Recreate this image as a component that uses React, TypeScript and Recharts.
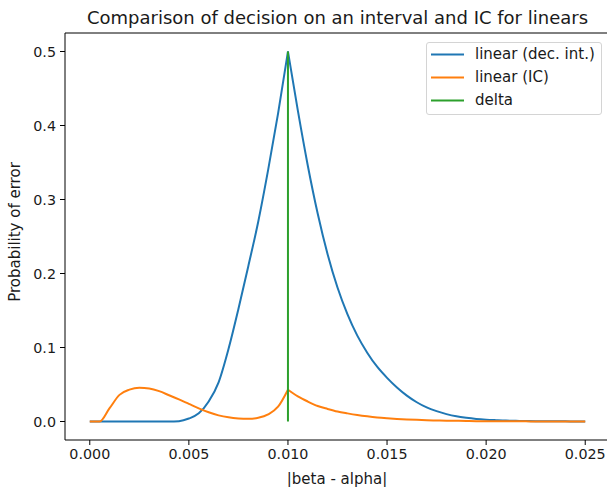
import * as React from 'react'
import { Legend, Line, LineChart, ReferenceArea, XAxis, YAxis } from 'recharts'

// |beta - alpha| sample positions, every 0.0005
const X_VALUES = [
  0, 0.0005, 0.001, 0.0015, 0.002, 0.0025, 0.003, 0.0035, 0.004, 0.0045,
  0.005, 0.0055, 0.006, 0.0065, 0.007, 0.0075, 0.008, 0.0085, 0.009, 0.0095,
  0.01, 0.0105, 0.011, 0.0115, 0.012, 0.0125, 0.013, 0.0135, 0.014, 0.0145,
  0.015, 0.0155, 0.016, 0.0165, 0.017, 0.0175, 0.018, 0.0185, 0.019, 0.0195,
  0.02, 0.0205, 0.021, 0.0215, 0.022, 0.0225, 0.023, 0.0235, 0.024, 0.0245,
  0.025,
]

const LINEAR_DEC_INT = [
  0, 0, 0, 0, 0, 0, 0, 0, 0, 0.0005,
  0.004, 0.011, 0.027, 0.053, 0.098, 0.152, 0.21, 0.27, 0.34, 0.416,
  0.5, 0.42, 0.346, 0.281, 0.226, 0.181, 0.145, 0.116, 0.093, 0.074,
  0.059, 0.046, 0.035, 0.026, 0.019, 0.014, 0.01, 0.007, 0.005, 0.0035,
  0.0025, 0.0018, 0.0012, 0.0009, 0.0006, 0.0004, 0.0003, 0.0002, 0.0002, 0.0001,
  0.0001,
]

const LINEAR_IC = [
  0, 0, 0.018, 0.036, 0.043, 0.0455, 0.0445, 0.041, 0.0355, 0.0298,
  0.0238, 0.0178, 0.0125, 0.0083, 0.0056, 0.0041, 0.0036, 0.005, 0.0095, 0.02,
  0.043, 0.034, 0.027, 0.021, 0.017, 0.0135, 0.011, 0.0088, 0.007, 0.0055,
  0.0044, 0.0035, 0.0028, 0.0022, 0.0017, 0.0014, 0.0011, 0.0009, 0.0007, 0.0005,
  0.0004, 0.0003, 0.0003, 0.0002, 0.0002, 0.0001, 0.0001, 0.0001, 0, 0,
  0,
]

// both curves have a cusp at the delta, so each side is drawn as its own segment
const CUSP_X = 0.01

const DELTA_X = [0.01, 0.01]
const DELTA_Y = [0, 0.5]

const X_TICKS = [0, 0.005, 0.01, 0.015, 0.02, 0.025]
const Y_TICKS = [0, 0.1, 0.2, 0.3, 0.4, 0.5]
const X_DOMAIN = [-0.00125, 0.02625]
const Y_DOMAIN = [-0.025, 0.525]

const SERIES = [
  { key: 'dec', name: 'linear (dec. int.)', color: '#1f77b4' },
  { key: 'ic', name: 'linear (IC)', color: '#ff7f0e' },
  { key: 'delta', name: 'delta', color: '#2ca02c' },
]

const data = X_VALUES.map((x, i) => ({ x, dec: LINEAR_DEC_INT[i], ic: LINEAR_IC[i] }))
const leftData = data.filter((d) => d.x <= CUSP_X)
const rightData = data.filter((d) => d.x >= CUSP_X)
const deltaData = DELTA_X.map((x, i) => ({ x, delta: DELTA_Y[i] }))

const FONT = '"DejaVu Sans", Verdana, sans-serif'
const TEXT = '#1a1a1a'
const TICK_STYLE = { fontSize: 14.3, fill: TEXT, fontFamily: FONT }

function LegendBox() {
  return (
    <div
      style={{
        width: 176,
        height: 73,
        boxSizing: 'border-box',
        border: '1px solid #d4d4d4',
        borderRadius: 3,
        background: 'rgba(255,255,255,0.8)',
        fontFamily: FONT,
        fontSize: 15,
        color: TEXT,
      }}
    >
      {SERIES.map((s) => (
        <div key={s.key} style={{ height: 23, display: 'flex', alignItems: 'center' }}>
          <svg width={48} height={23} style={{ flexShrink: 0 }}>
            <line x1={4} x2={37} y1={11.5} y2={11.5} stroke={s.color} strokeWidth={2} />
          </svg>
          <span style={{ lineHeight: 1, whiteSpace: 'nowrap' }}>{s.name}</span>
        </div>
      ))}
    </div>
  )
}

export default function App() {
  const curve = (key: string, color: string, segment: typeof data, side: string) => (
    <Line
      key={key + side}
      data={segment}
      dataKey={key}
      type="monotone"
      stroke={color}
      strokeWidth={2}
      dot={false}
      activeDot={false}
      isAnimationActive={false}
    />
  )

  return (
    <div
      style={{
        position: 'fixed',
        left: 0,
        top: 0,
        width: 607,
        height: 487,
        overflow: 'hidden',
        background: '#fff',
        fontFamily: FONT,
        color: TEXT,
      }}
    >
      <div
        style={{
          position: 'absolute',
          left: 0,
          top: 9,
          width: 675,
          textAlign: 'center',
          fontSize: 18,
          lineHeight: 1,
          whiteSpace: 'nowrap',
        }}
      >
        Comparison of decision on an interval and IC for linears
      </div>
      <div
        style={{
          position: 'absolute',
          left: 15,
          top: 232,
          transform: 'translate(-50%, -50%) rotate(-90deg)',
          fontSize: 15,
          lineHeight: 1,
          whiteSpace: 'nowrap',
        }}
      >
        Probability of error
      </div>
      <div
        style={{
          position: 'absolute',
          left: 337,
          top: 479,
          transform: 'translate(-50%, -50%)',
          fontSize: 15,
          lineHeight: 1,
          whiteSpace: 'nowrap',
        }}
      >
        |beta - alpha|
      </div>
      <div style={{ position: 'absolute', left: 0, top: 0 }}>
        <LineChart width={620} height={487} data={data} margin={{ top: 33, right: 10, bottom: 0, left: 0 }}>
          <XAxis
            dataKey="x"
            type="number"
            domain={X_DOMAIN}
            ticks={X_TICKS}
            allowDataOverflow
            height={47}
            tick={TICK_STYLE}
            tickFormatter={(v: number) => v.toFixed(3)}
            tickSize={5}
            tickMargin={4}
            axisLine={false}
            tickLine={{ stroke: '#000', strokeWidth: 1 }}
            interval={0}
          />
          <YAxis
            type="number"
            domain={Y_DOMAIN}
            ticks={Y_TICKS}
            allowDataOverflow
            width={65}
            tick={TICK_STYLE}
            tickFormatter={(v: number) => v.toFixed(1)}
            tickSize={5}
            tickMargin={4}
            axisLine={false}
            tickLine={{ stroke: '#000', strokeWidth: 1 }}
            interval={0}
          />
          <ReferenceArea
            x1={X_DOMAIN[0]}
            x2={X_DOMAIN[1]}
            y1={Y_DOMAIN[0]}
            y2={Y_DOMAIN[1]}
            fill="none"
            stroke="#000"
            strokeWidth={1}
            ifOverflow="visible"
          />
          {curve('dec', SERIES[0].color, leftData, 'L')}
          {curve('dec', SERIES[0].color, rightData, 'R')}
          {curve('ic', SERIES[1].color, leftData, 'L')}
          {curve('ic', SERIES[1].color, rightData, 'R')}
          <Line
            data={deltaData}
            dataKey="delta"
            type="linear"
            stroke={SERIES[2].color}
            strokeWidth={2}
            dot={false}
            activeDot={false}
            isAnimationActive={false}
          />
          <Legend
            layout="horizontal"
            align="center"
            verticalAlign="middle"
            content={() => <LegendBox />}
            wrapperStyle={{ position: 'absolute', left: 426, top: 42, width: 176, height: 73 }}
          />
        </LineChart>
      </div>
    </div>
  )
}
